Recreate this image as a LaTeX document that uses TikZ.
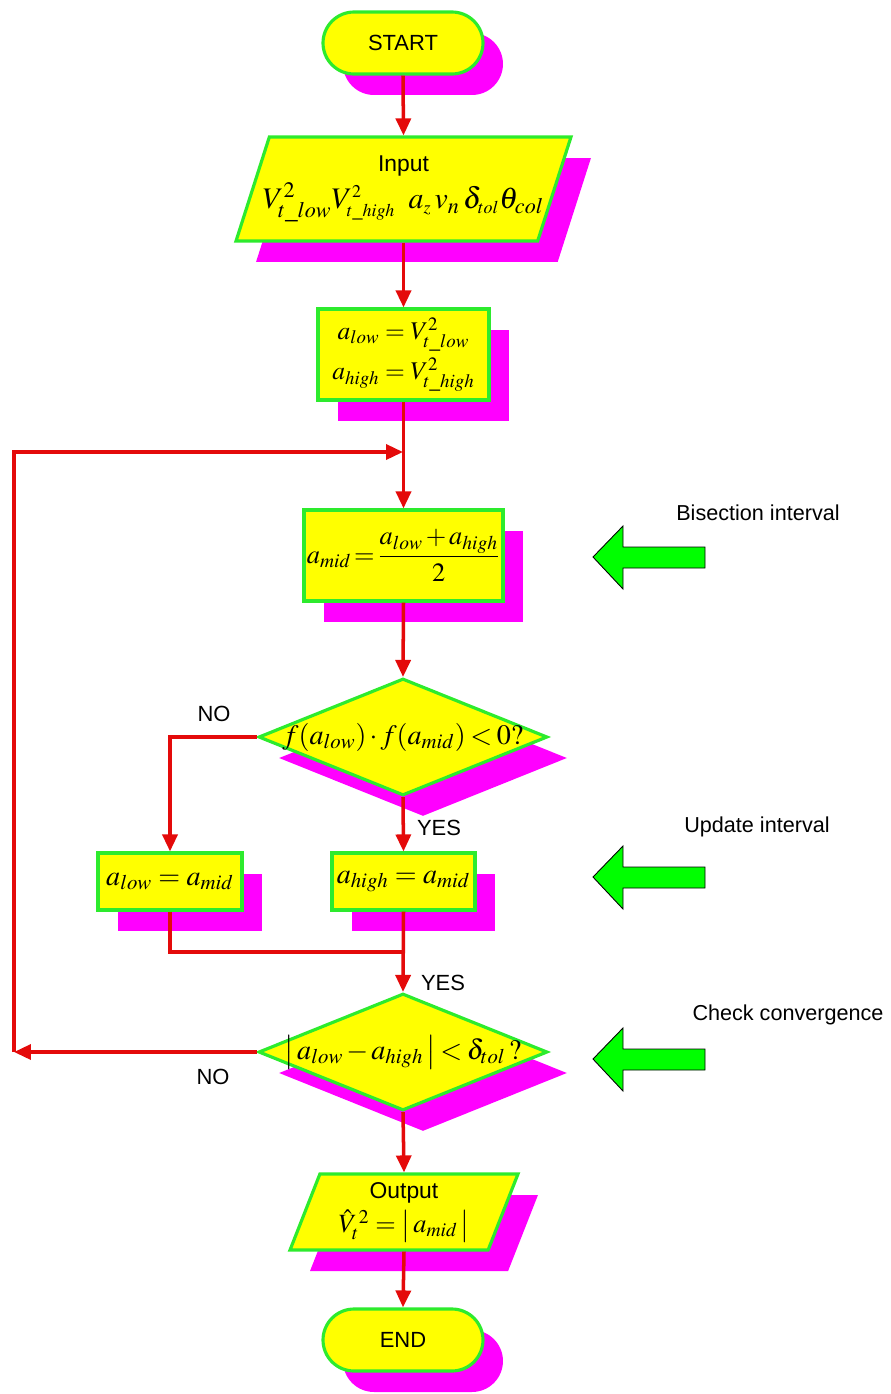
\documentclass[tikz,border=0pt]{standalone}
\usepackage{amsmath}
\usepackage{mathptmx}
\usepackage[no-math]{fontspec}
\setmainfont{Liberation Sans}
\usetikzlibrary{shapes.geometric,shapes.misc,shadows,arrows.meta,calc}
\definecolor{bordergreen}{RGB}{45,235,45}
\definecolor{boxyellow}{RGB}{255,255,0}
\definecolor{shadowmag}{RGB}{255,0,255}
\definecolor{linered}{RGB}{228,10,10}
\definecolor{arrowgreen}{RGB}{0,255,0}
\begin{document}
\begin{tikzpicture}[x=0.02cm,y=-0.02cm,
  shadowed/.style={general shadow={shadow xshift=0.4cm,shadow yshift=-0.42cm,fill=shadowmag,draw=none}},
  flow/.style={draw=bordergreen,line width=1.8pt,fill=boxyellow,inner sep=0pt,shadowed},
  terminal/.style={flow,rounded rectangle,minimum width=3.2cm,minimum height=1.24cm,font=\fontsize{12.5}{14}\selectfont},
  procbox/.style={flow,rectangle},
  decision/.style={flow,diamond,minimum width=5.78cm,minimum height=2.34cm,font=\fontsize{16}{18}\selectfont},
  iobox/.style={flow,trapezium,trapezium left angle=63.4,trapezium right angle=116.6,trapezium stretches body},
  line/.style={draw=linered,line width=2pt},
  arr/.style={line,-{Triangle[length=0.34cm,width=0.3cm]}},
  lbl/.style={font=\fontsize{12.5}{14}\selectfont,inner sep=0pt},
  sidelbl/.style={font=\fontsize{12.3}{14}\selectfont,inner sep=0pt},
  garrow/.style={draw=black,line width=0.5pt,fill=arrowgreen}
]
\useasboundingbox (0,0) rectangle (890,1394);

% nodes
\node[terminal] (start) at (403,43) {START};
\node[iobox,minimum width=6.7cm,minimum height=2.08cm] (inp) at (403.5,189)
  {\makebox[0pt]{\begin{tabular}{@{}c@{}}\fontsize{13}{15}\selectfont Input\\[3pt]
   \fontsize{17}{19}\selectfont$V^2_{t\_low}V^{\scriptscriptstyle 2}_{\scriptscriptstyle t\_high}\;\; a_{\scriptscriptstyle z}\,\mathit{v}_n\,\delta_{\scriptscriptstyle tol}\theta_{col}$\end{tabular}}};
\node[procbox,minimum width=3.42cm,minimum height=1.82cm,font=\fontsize{14.5}{16}\selectfont,align=center] (b2) at (403.5,354.5)
  {$a_{low}=V^2_{t\_low}$\\[3pt]$a_{high}=V^2_{t\_high}$};
\node[procbox,minimum width=3.98cm,minimum height=1.82cm,font=\fontsize{15}{17}\selectfont] (b3) at (403.5,555.5)
  {\thickmuskip=2mu\medmuskip=2mu$a_{mid}=\dfrac{a_{low}+a_{high}}{2}$};
\node[decision] (d1) at (403,737) {\makebox[0pt]{\medmuskip=2mu\thickmuskip=3mu$f(a_{low})\cdot f(a_{mid})<0?$}};
\node[procbox,minimum width=2.88cm,minimum height=1.14cm,font=\fontsize{16}{18}\selectfont] (b4) at (170,881.5) {$a_{low}=a_{mid}$};
\node[procbox,minimum width=2.86cm,minimum height=1.14cm,font=\fontsize{16}{18}\selectfont] (b5) at (403.5,881.5) {$a_{high}=a_{mid}$};
\node[decision] (d2) at (403,1052) {\makebox[0pt]{\medmuskip=2mu\thickmuskip=3mu$\bigl|\,a_{low}-a_{high}\,\bigr|<\delta_{tol}\,?$}};
\node[iobox,minimum width=4.56cm,minimum height=1.52cm] (out) at (404,1212)
  {\makebox[0pt]{\begin{tabular}{@{}c@{}}\fontsize{13}{15}\selectfont Output\\[3pt]
   \fontsize{15}{17}\selectfont$\hat{V}_t^{\,2}=\bigl|\,a_{mid}\,\bigr|$\end{tabular}}};
\node[terminal] (end) at (403,1340) {END};

% helper coordinates
\coordinate (join) at (403,452);
\coordinate (lpTop) at (14,452);
\coordinate (lpBot) at (14,1052);
\coordinate (merge) at (403,952);

% connectors
\draw[arr] (start.south) -- (inp.north);
\draw[arr] (inp.south) -- (b2.north);
\draw[arr] (b2.south) -- (b3.north);
\draw[arr] (b3.south) -- (d1.north);
\draw[arr] (d1.west) -| (b4.north);
\draw[arr] (d1.south) -- (b5.north);
\draw[line] (b4.south) |- (merge);
\draw[arr] (b5.south) -- (d2.north);
\draw[arr] (d2.west) -- (lpBot);
\draw[arr] (lpBot) -- (lpTop) -- (join);
\draw[arr] (d2.south) -- (out.north);
\draw[arr] (out.south) -- (end.north);

% branch labels
\node[lbl] (no1) at (214,714) {NO};
\node[lbl] (yes1) at (439,828) {YES};
\node[lbl] (yes2) at (443,983) {YES};
\node[lbl] (no2) at (213,1077) {NO};

% side annotations
\draw[garrow] (593,557) -- ++(30,-31) -- ++(0,21) -- ++(82,0) -- ++(0,21) -- ++(-82,0) -- ++(0,21) -- cycle;
\draw[garrow] (593,877) -- ++(30,-31) -- ++(0,21) -- ++(82,0) -- ++(0,21) -- ++(-82,0) -- ++(0,21) -- cycle;
\draw[garrow] (593,1059) -- ++(30,-31) -- ++(0,21) -- ++(82,0) -- ++(0,21) -- ++(-82,0) -- ++(0,21) -- cycle;
\node[sidelbl] (s1) at (758,513) {Bisection interval};
\node[sidelbl] (s2) at (757,827) {Update interval};
\node[sidelbl] (s3) at (788,1015) {Check convergence};
\end{tikzpicture}
\end{document}
